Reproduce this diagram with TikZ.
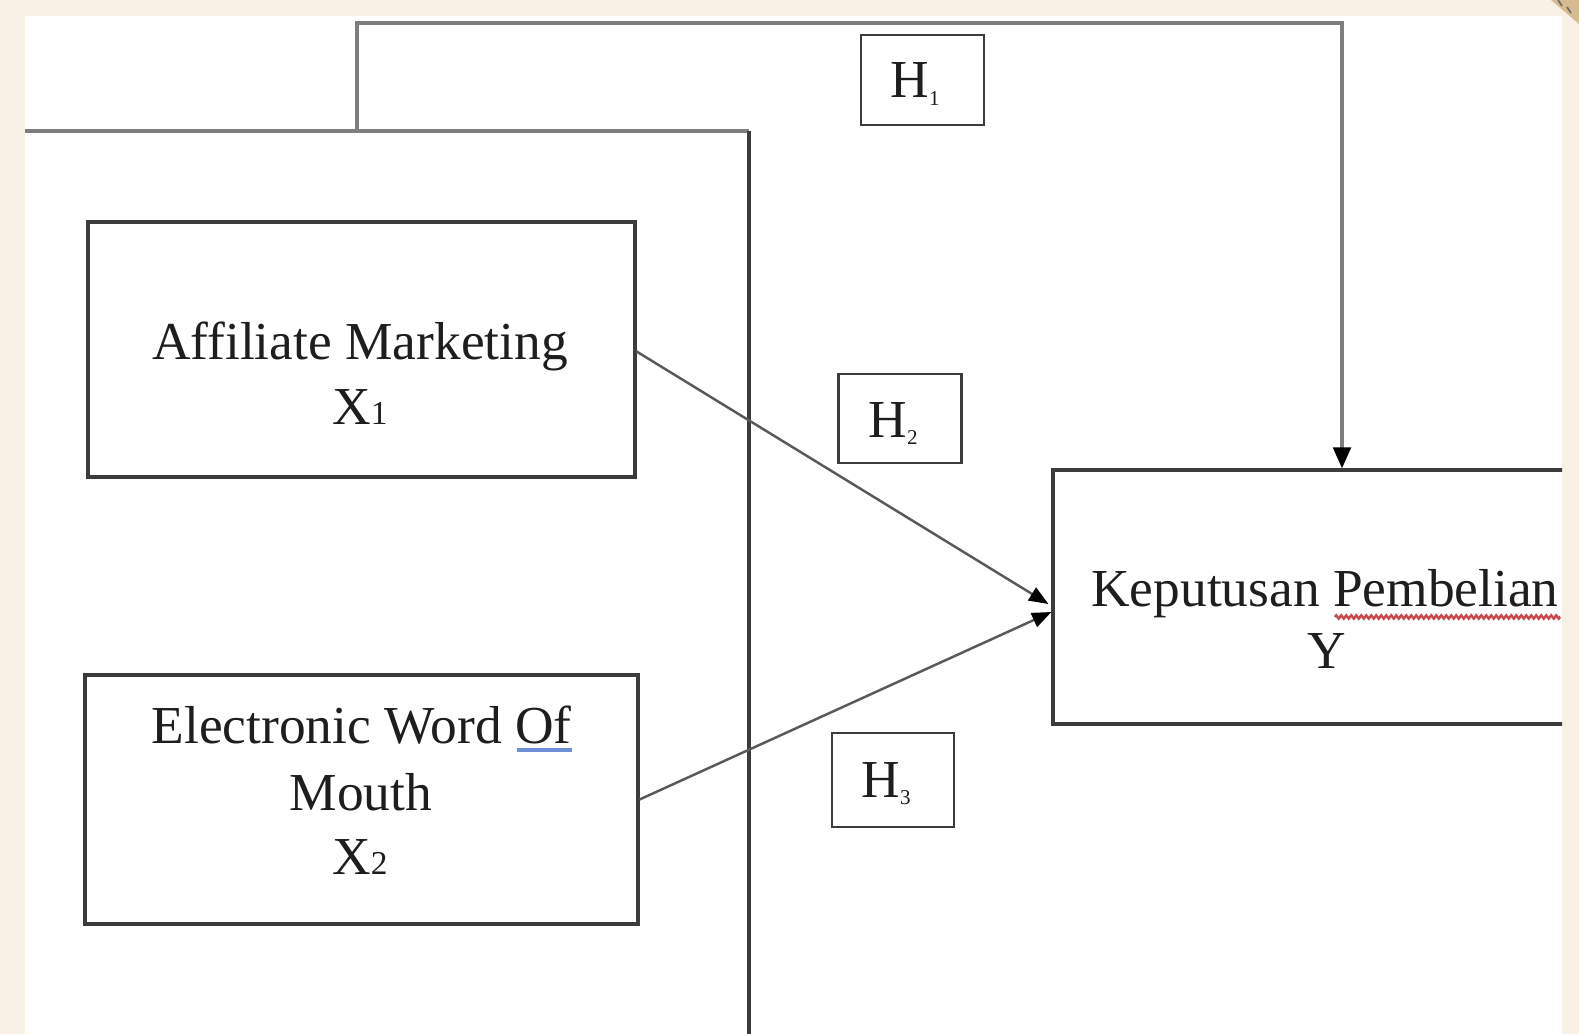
\documentclass[tikz,border=0pt]{standalone}
\usepackage{fontspec}
\setmainfont{Liberation Serif}
\usetikzlibrary{arrows.meta,decorations.pathmorphing}
\definecolor{bgbeige}{HTML}{F9F1E5}
\definecolor{cornertan}{HTML}{D6BB8E}
\definecolor{linedark}{HTML}{3C3C3C}
\definecolor{linemid}{HTML}{7E7E7E}
\definecolor{textcol}{HTML}{1E1E1E}
\definecolor{spellblue}{HTML}{6F8FD8}
\definecolor{spellred}{HTML}{C8484E}
\newcommand{\smallidx}[1]{{\fontsize{19}{19}\selectfont #1}}
\newcommand{\hsub}[1]{\raisebox{-4pt}{\fontsize{12}{12}\selectfont #1}}
\begin{document}
\begin{tikzpicture}[x=0.02cm,y=-0.02cm,
  varbox/.style={draw=linedark, line width=1.8pt, fill=white, inner sep=0pt,
    minimum width=547*0.02cm, minimum height=254*0.02cm},
  hbox/.style={draw=linedark, line width=1.6pt, fill=white, inner sep=0pt,
    minimum width=123*0.02cm, minimum height=90*0.02cm},
  txt/.style={anchor=base, inner sep=0pt, text=textcol,
    font=\fontsize{30.4}{36}\selectfont},
  conn/.style={draw=linedark!85, line width=1.4pt,
    -{Triangle[length=11pt,width=8.5pt,color=black]}},
  framemid/.style={draw=linemid, line width=2.1pt},
  framedark/.style={draw=linedark, line width=2.2pt}]
\useasboundingbox (0,0) rectangle (1579,1034);
% background
\fill[bgbeige] (0,0) rectangle (1579,1034);
\fill[white] (25,16) rectangle (1562,1034);
\fill[cornertan] (1551,0) -- (1579,0) -- (1579,24) -- cycle;
\draw[linedark!75, line width=1pt] (1558,0) -- (1562,6);
\draw[linedark!75, line width=1pt] (1567,7) -- (1571,13);

% boxes
\node[varbox, minimum height=255*0.02cm] (X1) at (361.5,349.5) {};
\node[varbox, minimum width=553*0.02cm, minimum height=249*0.02cm] (X2) at (361.5,799.5) {};
\begin{scope}
  \clip (25,16) rectangle (1562,1034);
  \node[varbox] (Y) at (1326.5,597) {};
\end{scope}
\node[hbox] (H1) at (922.5,80) {};
\node[hbox, minimum height=89*0.02cm] (H2) at (900,418.5) {};
\node[hbox, minimum width=122*0.02cm, minimum height=94*0.02cm] (H3) at (893,780) {};

% texts
\node[txt] (t1a) at (360,359.5) {Affiliate Marketing};
\node[txt] (t1b) at (360,424) {X\smallidx{1}};
\node[txt] (t2a) at (361.5,743) {Electronic Word Of};
\node[txt] (t2b) at (361,810) {Mouth};
\node[txt] (t2c) at (360,874) {X\smallidx{2}};
\node[txt] (t3a) at (1325,606) {Keputusan Pembelian};
\node[txt] (t3b) at (1327,668) {Y};
\node[txt] (h1t) at (915,98) {H\hsub{1}};
\node[txt] (h2t) at (893,437) {H\hsub{2}};
\node[txt] (h3t) at (886,797) {H\hsub{3}};

% spell-check marks
\draw[spellblue, line width=1.8pt] (517,750) -- (572,750);
\draw[spellred, line width=1.4pt, decorate,
  decoration={zigzag, segment length=5*0.02cm, amplitude=1.6*0.02cm}]
  (1335,617) -- (1560,617);

% frame lines
\coordinate (fl) at (25,131);
\coordinate (fj) at (357,131);
\coordinate (fc) at (749,131);
\coordinate (fb) at (749,1034);
\coordinate (tc) at (1342,23);
\draw[framemid] (fl) -- (fc);
\draw[framedark] (fc) -- (fb);

% connectors
\draw[framemid, -{Triangle[length=12pt,width=10pt,color=black]}]
  (fj) |- (tc) -- (tc |- Y.north);
\draw[conn] ([shift={(0,2)}]X1.east) -- ([shift={(-3,7)}]Y.west);
\draw[conn] (X2.east) -- ([shift={(0,15)}]Y.west);
\end{tikzpicture}
\end{document}
